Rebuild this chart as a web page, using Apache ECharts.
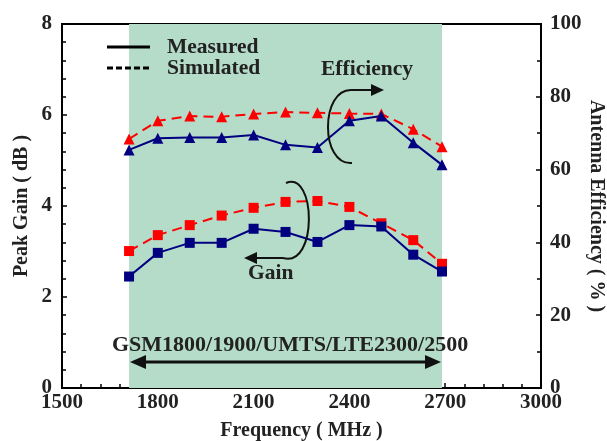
<!DOCTYPE html>
<html>
<head>
<meta charset="utf-8">
<script src="https://cdn.jsdelivr.net/npm/echarts@6/dist/echarts.min.js"></script>
<style>
  html, body { margin: 0; padding: 0; background: #fff; }
  #chart { width: 607px; height: 441px; }
</style>
</head>
<body>
<div id="chart"></div>
<script>
// frequency points (MHz)
var freq = [1710, 1800, 1900, 2000, 2100, 2200, 2300, 2400, 2500, 2600, 2690];
// peak gain (dB)
var gainMeasured = [2.45, 2.97, 3.19, 3.19, 3.50, 3.43, 3.21, 3.58, 3.55, 2.93, 2.56];
var gainSimulated = [3.01, 3.36, 3.58, 3.79, 3.96, 4.09, 4.11, 3.98, 3.62, 3.25, 2.73];
// antenna efficiency (%)
var effMeasured = [65.4, 68.6, 68.8, 68.8, 69.5, 66.8, 66.1, 73.4, 74.7, 67.4, 61.3];
var effSimulated = [68.4, 73.4, 74.7, 74.5, 75.3, 75.8, 75.6, 75.4, 75.3, 71.1, 66.3];
// operating band
var band = [1710, 2690];
var bandLabel = 'GSM1800/1900/UMTS/LTE2300/2500';

var font = 'Liberation Serif, Times New Roman, serif';
var blue = '#000080';
var red = '#ff0000';

function pairs(xs, ys) {
    return xs.map(function (x, i) { return [x, ys[i]]; });
}

var chart = echarts.init(document.getElementById('chart'));

var tickLabel = { fontFamily: font, fontWeight: 'bold', fontSize: 21, color: '#222' };

var option = {
    animation: false,
    grid: {
        left: 62, right: 66, top: 24, bottom: 53,
        outerBoundsMode: 'none', containLabel: false,
        show: true, borderColor: '#000', borderWidth: 2, backgroundColor: 'transparent'
    },
    xAxis: {
        type: 'value', min: 1500, max: 3000, interval: 300,
        name: 'Frequency ( MHz )', nameLocation: 'middle', nameGap: 33, nameMoveOverlap: false,
        nameTextStyle: { fontFamily: font, fontWeight: 'bold', fontSize: 20, color: '#222' },
        axisLine: { lineStyle: { color: '#000', width: 2 } },
        axisTick: { inside: true, length: 5, lineStyle: { color: '#000', width: 1.5 } },
        minorTick: { show: true, splitNumber: 5, length: 4, lineStyle: { color: '#000', width: 1.5 } },
        axisLabel: Object.assign({ margin: 4, formatter: function (v) { return String(v); } }, tickLabel),
        splitLine: { show: false }
    },
    yAxis: [{
        type: 'value', min: 0, max: 8, interval: 2,
        name: 'Peak Gain ( dB )', nameLocation: 'middle', nameGap: 30, nameMoveOverlap: false,
        nameTextStyle: { fontFamily: font, fontWeight: 'bold', fontSize: 20, color: '#222' },
        axisLine: { show: true, lineStyle: { color: '#000', width: 2 } },
        axisTick: { show: true, inside: true, length: 5, lineStyle: { color: '#000', width: 1.5 } },
        minorTick: { show: true, splitNumber: 5, length: 4, lineStyle: { color: '#000', width: 1.5 } },
        axisLabel: Object.assign({ margin: 10 }, tickLabel),
        splitLine: { show: false }
    }, {
        type: 'value', min: 0, max: 100, interval: 20, position: 'right',
        name: 'Antenna Efficiency ( % )', nameLocation: 'middle', nameGap: 45, nameRotate: -90,
        nameMoveOverlap: false,
        nameTextStyle: { fontFamily: font, fontWeight: 'bold', fontSize: 20, color: '#222' },
        axisLine: { show: true, lineStyle: { color: '#000', width: 2 } },
        axisTick: { show: true, inside: true, length: 5, lineStyle: { color: '#000', width: 1.5 } },
        minorTick: { show: true, splitNumber: 2, length: 4, lineStyle: { color: '#000', width: 1.5 } },
        axisLabel: Object.assign({ margin: 9 }, tickLabel),
        splitLine: { show: false }
    }],
    series: [{
        name: 'Gain simulated', type: 'line', yAxisIndex: 0,
        data: pairs(freq, gainSimulated),
        symbol: 'rect', symbolSize: 10,
        itemStyle: { color: red },
        lineStyle: { color: red, width: 2, type: [10, 6] },
        markArea: {
            silent: true,
            itemStyle: { color: '#b4dcc9' },
            data: [[{ xAxis: band[0] }, { xAxis: band[1] }]]
        },
        z: 3
    }, {
        name: 'Gain measured', type: 'line', yAxisIndex: 0,
        data: pairs(freq, gainMeasured),
        symbol: 'rect', symbolSize: 10,
        itemStyle: { color: blue },
        lineStyle: { color: blue, width: 2 },
        z: 4
    }, {
        name: 'Efficiency simulated', type: 'line', yAxisIndex: 1,
        data: pairs(freq, effSimulated),
        symbol: 'triangle', symbolSize: 11,
        itemStyle: { color: red },
        lineStyle: { color: red, width: 2, type: [10, 6] },
        z: 3
    }, {
        name: 'Efficiency measured', type: 'line', yAxisIndex: 1,
        data: pairs(freq, effMeasured),
        symbol: 'triangle', symbolSize: 11,
        itemStyle: { color: blue },
        lineStyle: { color: blue, width: 2 },
        z: 4
    }],
    graphic: [
        // legend
        { type: 'line', shape: { x1: 107, y1: 47, x2: 150, y2: 47 }, style: { stroke: '#000', lineWidth: 3 }, z: 10 },
        { type: 'line', shape: { x1: 107, y1: 68, x2: 150, y2: 68 }, style: { stroke: '#000', lineWidth: 3, lineDash: [6, 3] }, z: 10 },
        { type: 'text', left: 167, top: 36, style: { text: 'Measured', font: 'bold 21.5px ' + font, fill: '#222' }, z: 10 },
        { type: 'text', left: 167, top: 57, style: { text: 'Simulated', font: 'bold 21.5px ' + font, fill: '#222' }, z: 10 },
        // efficiency annotation
        { type: 'text', left: 321, top: 58, style: { text: 'Efficiency', font: 'bold 21.5px ' + font, fill: '#222' }, z: 10 },
        { type: 'bezierCurve', shape: { x1: 352, y1: 90, cpx1: 320, cpy1: 88, cpx2: 320, cpy2: 166, x2: 352, y2: 163 },
          style: { stroke: '#111', lineWidth: 2, fill: null }, z: 10 },
        { type: 'line', shape: { x1: 352, y1: 90, x2: 372, y2: 90 }, style: { stroke: '#111', lineWidth: 2 }, z: 10 },
        { type: 'polygon', shape: { points: [[384, 90], [371, 84], [371, 96]] }, style: { fill: '#111' }, z: 10 },
        // gain annotation
        { type: 'text', left: 248, top: 262, style: { text: 'Gain', font: 'bold 21.5px ' + font, fill: '#222' }, z: 10 },
        { type: 'bezierCurve', shape: { x1: 286, y1: 183, cpx1: 316, cpy1: 170, cpx2: 318, cpy2: 268, x2: 283, y2: 258 },
          style: { stroke: '#111', lineWidth: 2, fill: null }, z: 10 },
        { type: 'line', shape: { x1: 283, y1: 258, x2: 256, y2: 258 }, style: { stroke: '#111', lineWidth: 2 }, z: 10 },
        { type: 'polygon', shape: { points: [[244, 258], [257, 252], [257, 264]] }, style: { fill: '#111' }, z: 10 },
        // band arrow
        { type: 'text', left: 112, top: 334, style: { text: bandLabel, font: 'bold 22px ' + font, fill: '#222' }, z: 10 },
        { type: 'line', shape: { x1: 142, y1: 362, x2: 429, y2: 362 }, style: { stroke: '#111', lineWidth: 3 }, z: 10 },
        { type: 'polygon', shape: { points: [[130, 362], [146, 355], [146, 369]] }, style: { fill: '#111' }, z: 10 },
        { type: 'polygon', shape: { points: [[441, 362], [425, 355], [425, 369]] }, style: { fill: '#111' }, z: 10 }
    ]
};

chart.setOption(option);
</script>
</body>
</html>
